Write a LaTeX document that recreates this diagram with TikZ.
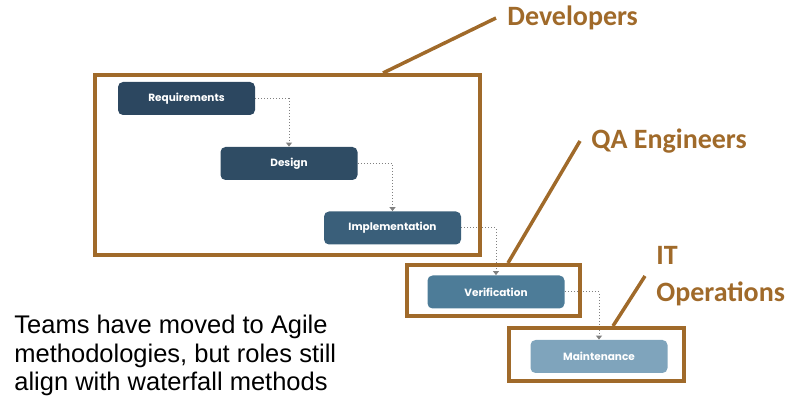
\documentclass[tikz,border=0pt]{standalone}
\usepackage{fontspec}
\setmainfont{Liberation Sans}
\newfontfamily\rolefont{Carlito}
\newfontfamily\stepfont{Poppins}
\usetikzlibrary{arrows.meta,positioning}
\definecolor{rolebrown}{RGB}{160,106,42}
\definecolor{stepA}{RGB}{44,71,96}
\definecolor{stepB}{RGB}{47,76,100}
\definecolor{stepC}{RGB}{58,95,122}
\definecolor{stepD}{RGB}{77,124,152}
\definecolor{stepE}{RGB}{127,164,188}
\begin{document}
\begin{tikzpicture}[x=1pt,y=-1pt,thick]
    % `stepbox' is used for the waterfall phases.
    % `rolebox' is used for the brown frames round the phases.
    % `rolelabel' and `pointer' are used for the role names.
    \tikzstyle{stepbox} = [rounded corners=5pt,minimum width=137pt,minimum height=33pt,
      text=white,font=\stepfont\bfseries\fontsize{10.5}{12}\selectfont]
    \tikzstyle{rolebox} = [draw=rolebrown,line width=3.5pt,inner sep=0pt]
    \tikzstyle{rolelabel} = [text=rolebrown,anchor=west,inner xsep=11pt,align=left,
      font=\rolefont\bfseries\fontsize{28}{37}\selectfont]
    \tikzstyle{pointer} = [draw=rolebrown,line width=3.5pt]
    \tikzstyle{flow} = [draw=gray,dotted,line width=1pt,-{Triangle[width=6pt,length=4pt]}]
    %
    \useasboundingbox (0,0) rectangle (788,406);
    % Phases.
    \node[stepbox,fill=stepA] (req) at (186.5,98.5) {Requirements};
    \node[stepbox,fill=stepB] (des) at (289,163.5) {Design};
    \node[stepbox,fill=stepC] (imp) at (392.5,228) {Implementation};
    \node[stepbox,fill=stepD] (ver) at (496,292) {Verification};
    \node[stepbox,fill=stepE] (mai) at (599,356.5) {Maintenance};
    % Flow between phases.
    \draw[flow] (req.east) -| (des.north);
    \draw[flow] (des.east) -| (imp.north);
    \draw[flow] (imp.east) -| (ver.north);
    \draw[flow] (ver.east) -| (mai.north);
    % Role frames.
    \node[rolebox,minimum width=385pt,minimum height=180pt] (devbox) at (287.5,165) {};
    \node[rolebox,minimum width=173pt,minimum height=51pt] (qabox) at (493.5,290.5) {};
    \node[rolebox,minimum width=175pt,minimum height=53pt] (itbox) at (596.5,354.5) {};
    % Role names.
    \coordinate (devfoot) at (383,73);
    \coordinate (qafoot) at (508,263);
    \coordinate (itfoot) at (613,326);
    \node[rolelabel] (devlbl) at (496,18) {Developers};
    \node[rolelabel] (qalbl) at (580,141) {QA Engineers};
    \node[rolelabel] (itlbl) at (645,276) {IT\\Operations};
    \draw[pointer] (devfoot) -- (devlbl.west);
    \draw[pointer] (qafoot) -- (qalbl.west);
    \draw[pointer] (itfoot) -- (itlbl.west);
    % Note.
    \node[anchor=north west,align=left,inner sep=0pt,font=\fontsize{25.5}{28.5}\selectfont]
      (note) at (14,315) {Teams have moved to Agile\\methodologies, but roles still\\align with waterfall methods};
\end{tikzpicture}
\end{document}
